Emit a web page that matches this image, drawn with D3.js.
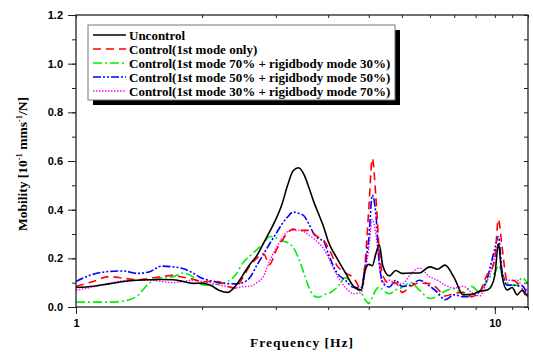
<!DOCTYPE html>
<html>
<head>
<meta charset="utf-8">
<script src="https://cdn.jsdelivr.net/npm/d3@7.9.0/dist/d3.min.js"></script>
<style>
  body { margin: 0; background: #fff; }
  svg { display: block; }
</style>
</head>
<body>
<svg id="chart" width="533" height="352"></svg>
<script>
// frequency grid [Hz]
const freq = [1.0, 1.1, 1.2, 1.3, 1.4, 1.5, 1.6, 1.7, 1.8, 1.9, 2.0, 2.1, 2.2, 2.3, 2.4, 2.5, 2.6, 2.7, 2.8, 2.9,
  3.0, 3.1, 3.2, 3.3, 3.4, 3.5, 3.6, 3.7, 3.8, 3.9, 4.0, 4.2, 4.4, 4.6, 4.8, 4.9, 5.0, 5.1, 5.2, 5.3,
  5.4, 5.6, 5.8, 6.0, 6.3, 6.6, 7.0, 7.3, 7.6, 8.0, 8.4, 8.8, 9.2, 9.6, 9.8, 10.0, 10.2, 10.4, 10.7, 11.0,
  11.3, 11.6, 12.0];

const uncontrol = [0.080, 0.085, 0.095, 0.105, 0.110, 0.112, 0.113, 0.112, 0.105, 0.097, 0.098, 0.088, 0.068, 0.060, 0.085, 0.130, 0.175, 0.210, 0.260, 0.310,
  0.360, 0.420, 0.500, 0.560, 0.572, 0.545, 0.490, 0.430, 0.380, 0.330, 0.270, 0.200, 0.140, 0.085, 0.070, 0.150, 0.175, 0.170, 0.220, 0.255,
  0.170, 0.128, 0.150, 0.138, 0.140, 0.140, 0.165, 0.155, 0.172, 0.120, 0.050, 0.052, 0.065, 0.070, 0.085, 0.130, 0.260, 0.130, 0.070, 0.080,
  0.050, 0.068, 0.042];

const mode1Only = [0.085, 0.105, 0.125, 0.118, 0.112, 0.117, 0.125, 0.130, 0.122, 0.115, 0.104, 0.105, 0.104, 0.085, 0.078, 0.120, 0.170, 0.200, 0.220, 0.175,
  0.230, 0.270, 0.305, 0.320, 0.315, 0.315, 0.315, 0.300, 0.285, 0.275, 0.245, 0.170, 0.140, 0.120, 0.075, 0.180, 0.400, 0.610, 0.450, 0.230,
  0.130, 0.096, 0.100, 0.060, 0.085, 0.098, 0.096, 0.075, 0.045, 0.056, 0.060, 0.043, 0.062, 0.135, 0.150, 0.200, 0.360, 0.250, 0.110, 0.110,
  0.100, 0.075, 0.028];

const mix70_30 = [0.020, 0.020, 0.020, 0.025, 0.045, 0.100, 0.120, 0.123, 0.140, 0.125, 0.092, 0.089, 0.096, 0.105, 0.130, 0.180, 0.210, 0.235, 0.260, 0.290,
  0.285, 0.272, 0.265, 0.245, 0.200, 0.140, 0.080, 0.045, 0.040, 0.050, 0.055, 0.080, 0.120, 0.085, 0.058, 0.030, 0.015, 0.040, 0.070, 0.082,
  0.070, 0.055, 0.070, 0.080, 0.100, 0.070, 0.035, 0.045, 0.065, 0.075, 0.055, 0.085, 0.060, 0.110, 0.130, 0.140, 0.170, 0.140, 0.100, 0.090,
  0.090, 0.120, 0.095];

const mix50_50 = [0.105, 0.135, 0.146, 0.148, 0.138, 0.145, 0.168, 0.165, 0.158, 0.140, 0.118, 0.108, 0.100, 0.096, 0.095, 0.100, 0.120, 0.170, 0.215, 0.260,
  0.300, 0.340, 0.370, 0.390, 0.385, 0.375, 0.340, 0.300, 0.280, 0.272, 0.220, 0.140, 0.110, 0.080, 0.080, 0.170, 0.280, 0.460, 0.380, 0.180,
  0.100, 0.082, 0.110, 0.085, 0.090, 0.110, 0.085, 0.060, 0.030, 0.050, 0.042, 0.042, 0.065, 0.120, 0.180, 0.240, 0.290, 0.150, 0.090, 0.090,
  0.087, 0.087, 0.040];

const mix30_70 = [0.068, 0.083, 0.098, 0.108, 0.110, 0.110, 0.105, 0.100, 0.105, 0.110, 0.105, 0.098, 0.090, 0.084, 0.078, 0.083, 0.085, 0.100, 0.125, 0.190,
  0.240, 0.280, 0.310, 0.315, 0.315, 0.310, 0.295, 0.280, 0.262, 0.240, 0.205, 0.130, 0.080, 0.055, 0.060, 0.140, 0.240, 0.360, 0.300, 0.170,
  0.100, 0.110, 0.095, 0.095, 0.135, 0.160, 0.123, 0.110, 0.090, 0.078, 0.085, 0.060, 0.045, 0.110, 0.150, 0.210, 0.260, 0.140, 0.110, 0.110,
  0.110, 0.090, 0.065];

const seriesNames = ["Uncontrol", "Control(1st mode only)", "Control(1st mode 70% + rigidbody mode 30%)",
  "Control(1st mode 50% + rigidbody mode 50%)", "Control(1st mode 30% + rigidbody mode 70%)"];
const yTicks = [0.0, 0.2, 0.4, 0.6, 0.8, 1.0, 1.2];
const xTickLabels = [1, 10];

const series = [
  { name: seriesNames[0], values: uncontrol, color: "#000000", dash: null, width: 1.6 },
  { name: seriesNames[1], values: mode1Only, color: "#ff0000", dash: "8,5", width: 1.6 },
  { name: seriesNames[2], values: mix70_30, color: "#00ee00", dash: "9,3,2,3", width: 1.6 },
  { name: seriesNames[3], values: mix50_50, color: "#0000ff", dash: "8,2,2,2,2,2", width: 1.6 },
  { name: seriesNames[4], values: mix30_70, color: "#ff00ff", dash: "1.5,1.5", width: 1.4 }
];

const W = 533, H = 352;
const margin = { top: 15, right: 5, bottom: 45, left: 76 };
const svg = d3.select("#chart");

const x = d3.scaleLog().domain([1, 12]).range([margin.left, W - margin.right]);
const y = d3.scaleLinear().domain([0, 1.2]).range([H - margin.bottom, margin.top]);

svg.append("defs").append("clipPath").attr("id", "plot")
  .append("rect")
  .attr("x", margin.left).attr("y", margin.top)
  .attr("width", W - margin.left - margin.right)
  .attr("height", H - margin.top - margin.bottom);

// lines
const line = d3.line()
  .x((d, i) => x(freq[i]))
  .y(d => y(d))
  .curve(d3.curveMonotoneX);

const linesG = svg.append("g").attr("clip-path", "url(#plot)");
// draw the background series first, uncontrol on top
[2, 4, 3, 1, 0].forEach(k => {
  const s = series[k];
  linesG.append("path")
    .attr("d", line(s.values))
    .attr("fill", "none")
    .attr("stroke", s.color)
    .attr("stroke-width", s.width)
    .attr("stroke-dasharray", s.dash)
    .attr("stroke-linejoin", "round");
});

// frame and axes
const minorX = d3.range(1, 13);
const minorY = d3.range(0, 1.21, 0.1);

const axisColor = "#222";
svg.append("g").attr("transform", `translate(0,${H - margin.bottom})`)
  .call(d3.axisBottom(x).tickValues(minorX).tickSize(3).tickFormat(""))
  .call(g => g.select(".domain").remove());

svg.append("g").attr("transform", `translate(0,${H - margin.bottom})`)
  .call(d3.axisBottom(x).tickValues(xTickLabels).tickSize(7).tickFormat(d3.format("d")))
  .call(g => g.select(".domain").remove())
  .call(g => g.selectAll("text")
    .attr("dy", "0.9em")
    .attr("font-family", "'Liberation Sans', Arial, sans-serif")
    .attr("font-weight", "bold")
    .attr("font-size", 11));

svg.append("g").attr("transform", `translate(${margin.left},0)`)
  .call(d3.axisLeft(y).tickValues(minorY).tickSize(4).tickFormat(""))
  .call(g => g.select(".domain").remove());

svg.append("g").attr("transform", `translate(${margin.left},0)`)
  .call(d3.axisLeft(y).tickValues(yTicks).tickSize(8).tickFormat(d3.format(".1f")))
  .call(g => g.select(".domain").remove())
  .call(g => g.selectAll("text")
    .attr("x", -13)
    .attr("font-family", "'Liberation Sans', Arial, sans-serif")
    .attr("font-weight", "bold")
    .attr("font-size", 11));

// top and right: inward ticks
svg.append("g").attr("transform", `translate(0,${margin.top})`)
  .call(d3.axisBottom(x).tickValues(minorX).tickSize(3).tickFormat(""))
  .call(g => g.select(".domain").remove());
svg.append("g").attr("transform", `translate(${W - margin.right},0)`)
  .call(d3.axisLeft(y).tickValues(minorY).tickSize(4).tickFormat(""))
  .call(g => g.select(".domain").remove());

svg.selectAll(".tick line").attr("stroke", axisColor).attr("stroke-width", 1);
svg.selectAll(".tick text").attr("fill", "#000");

svg.append("rect")
  .attr("x", margin.left).attr("y", margin.top)
  .attr("width", W - margin.left - margin.right)
  .attr("height", H - margin.top - margin.bottom)
  .attr("fill", "none")
  .attr("stroke", axisColor)
  .attr("stroke-width", 1.3);

// axis titles
svg.append("text")
  .attr("x", 302).attr("y", 347)
  .attr("text-anchor", "middle")
  .attr("font-family", "'Liberation Serif', 'Times New Roman', serif")
  .attr("font-weight", "bold")
  .attr("font-size", 13.5)
  .attr("letter-spacing", 1)
  .text("Frequency [Hz]");

const yTitle = svg.append("text")
  .attr("transform", "translate(27,164) rotate(-90)")
  .attr("text-anchor", "middle")
  .attr("font-family", "'Liberation Serif', 'Times New Roman', serif")
  .attr("font-weight", "bold")
  .attr("font-size", 13.5);
yTitle.append("tspan").text("Mobility [10");
yTitle.append("tspan").attr("dy", -5).attr("font-size", 8.5).text("-1");
yTitle.append("tspan").attr("dy", 5).text(" mms");
yTitle.append("tspan").attr("dy", -5).attr("font-size", 8.5).text("-1");
yTitle.append("tspan").attr("dy", 5).text("/N]");

// legend
const lg = { x: 88, y: 25, w: 307, h: 75 };
svg.append("rect")
  .attr("x", lg.x + 5).attr("y", lg.y + 5)
  .attr("width", lg.w).attr("height", lg.h)
  .attr("fill", "#000");
svg.append("rect")
  .attr("x", lg.x).attr("y", lg.y)
  .attr("width", lg.w).attr("height", lg.h)
  .attr("fill", "#fff")
  .attr("stroke", "#777")
  .attr("stroke-width", 1);

series.forEach((s, i) => {
  const cy = lg.y + 10 + i * 14;
  svg.append("line")
    .attr("x1", lg.x + 5).attr("x2", lg.x + 38)
    .attr("y1", cy).attr("y2", cy)
    .attr("stroke", s.color)
    .attr("stroke-width", s.width)
    .attr("stroke-dasharray", s.dash);
  svg.append("text")
    .attr("x", lg.x + 41).attr("y", cy)
    .attr("dy", "0.35em")
    .attr("font-family", "'Liberation Serif', 'Times New Roman', serif")
    .attr("font-weight", "bold")
    .attr("font-size", 13)
    .text(s.name);
});
</script>
</body>
</html>
